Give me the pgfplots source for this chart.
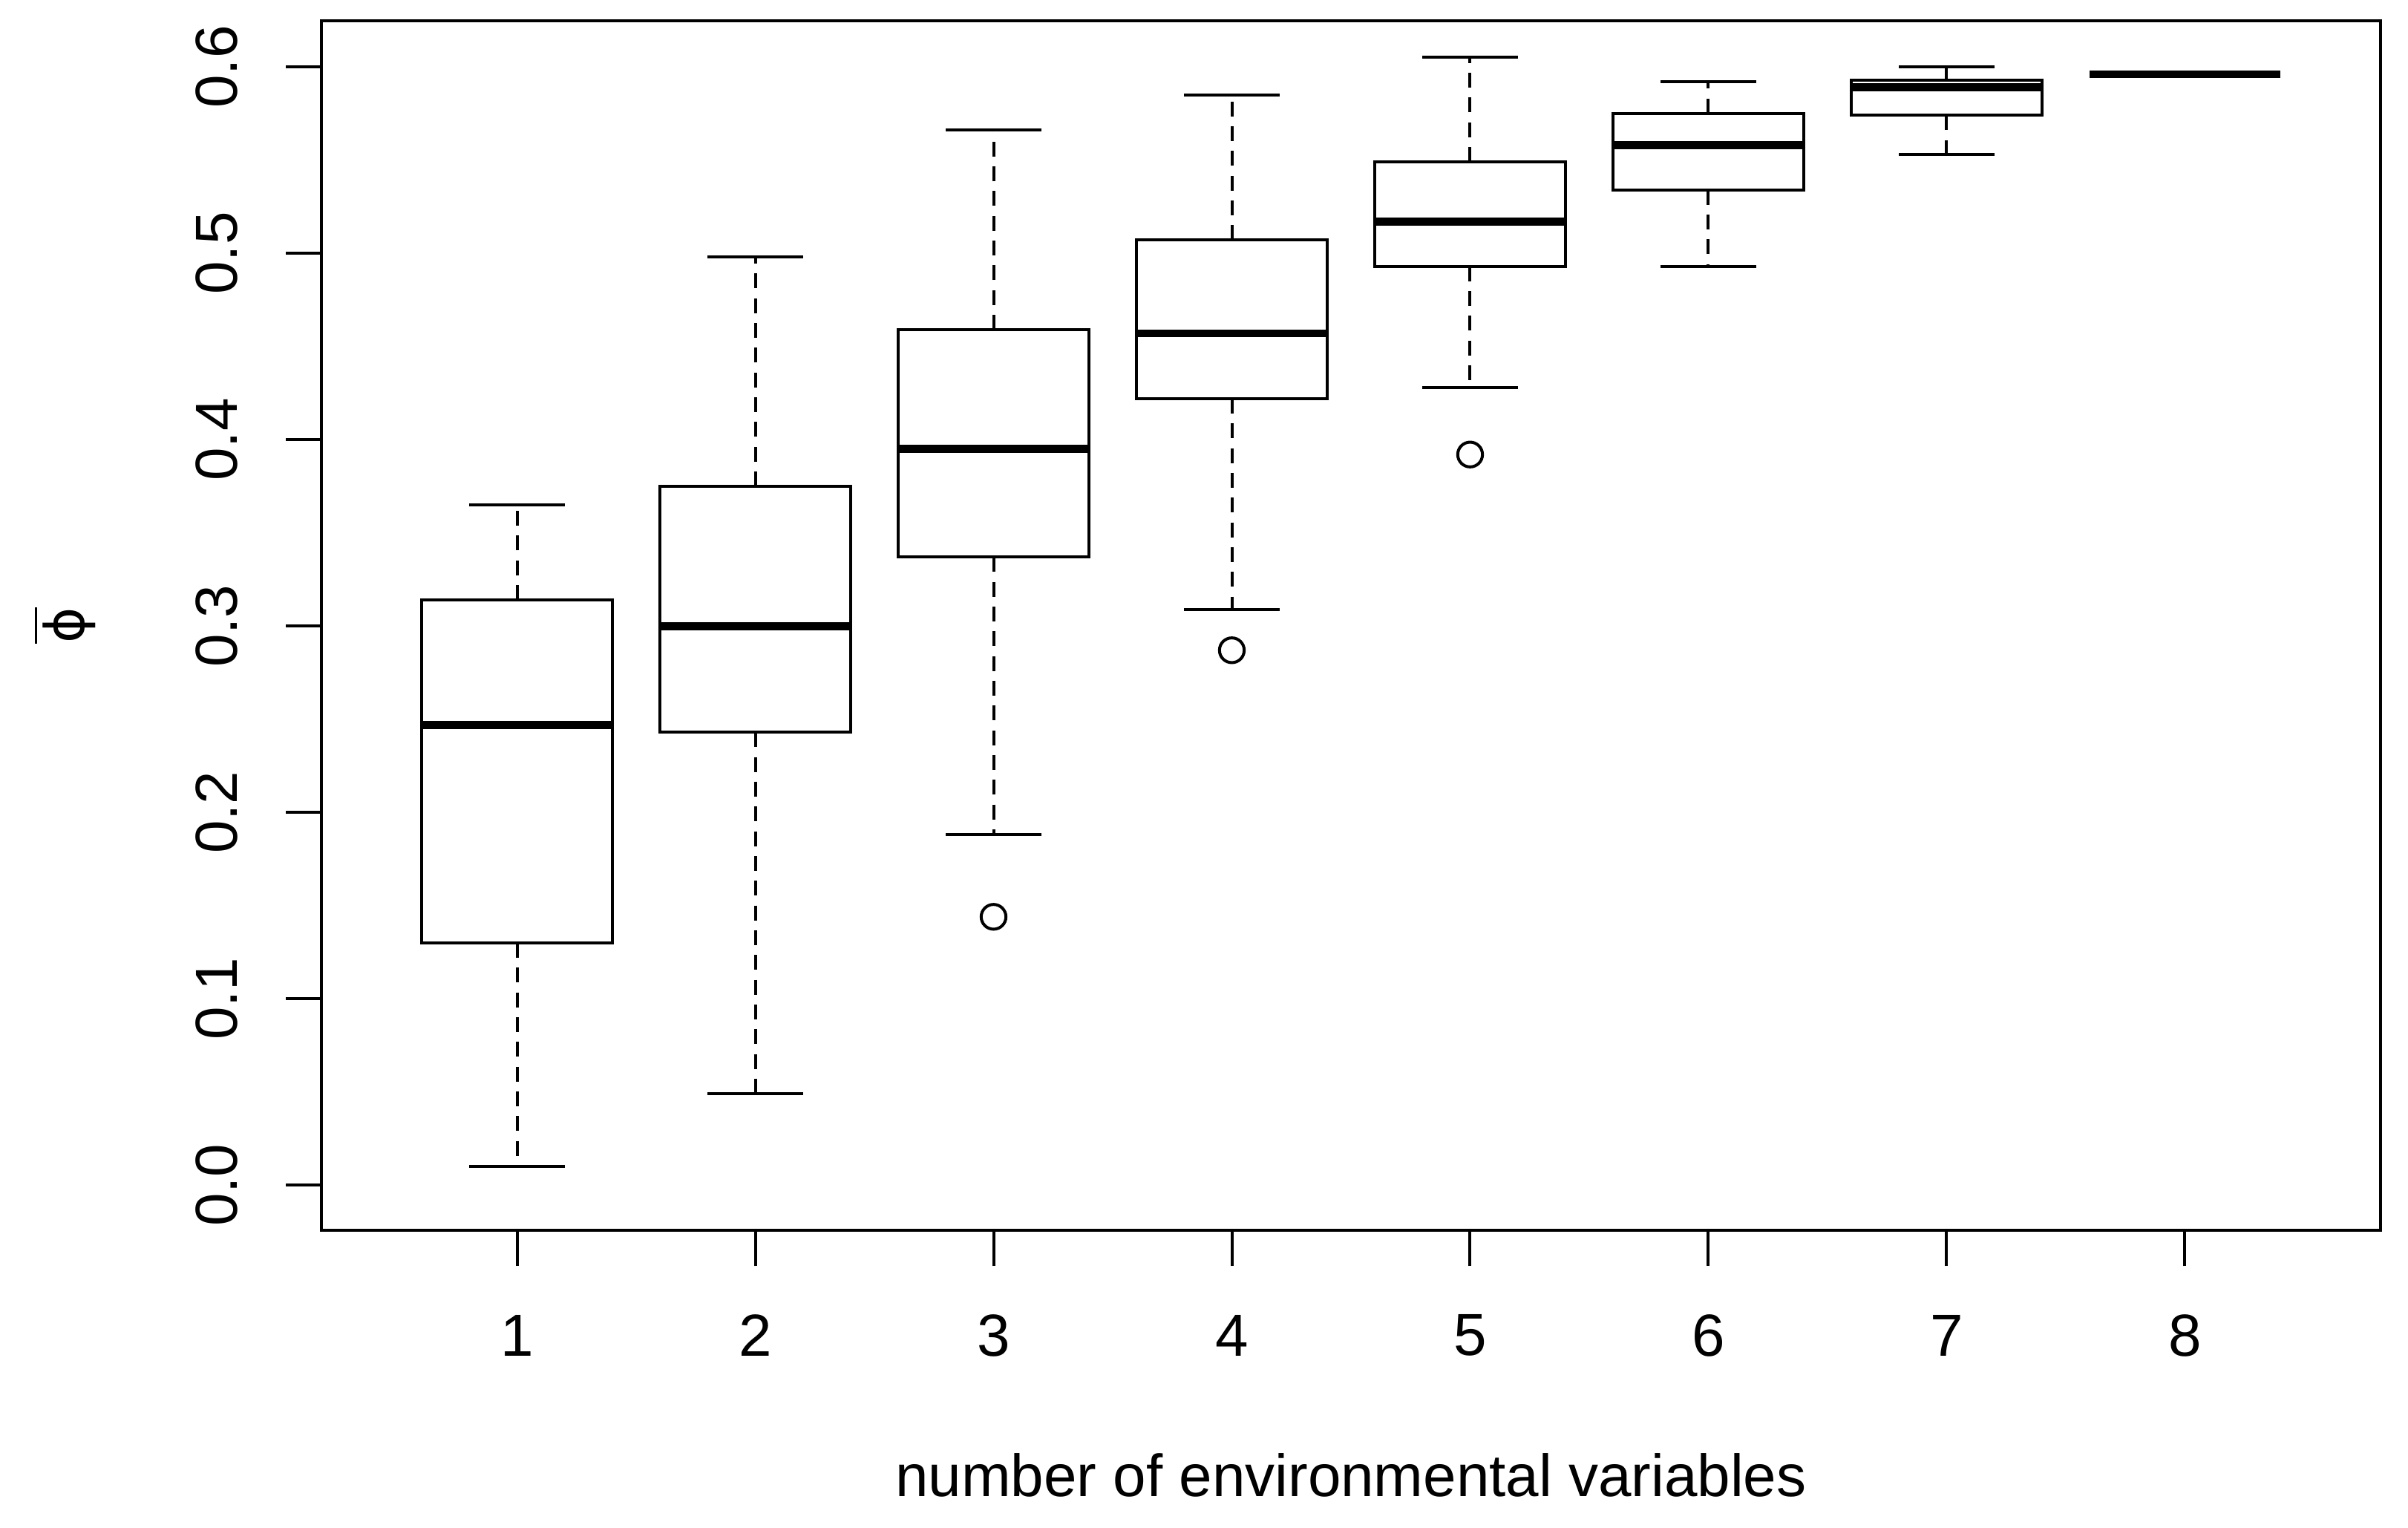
\documentclass[border=0pt]{standalone}
\usepackage{fontspec}
\setmainfont{Liberation Sans}
\newfontfamily\dejavu{DejaVu Sans}
\usepackage{pgfplots}
\pgfplotsset{compat=1.18}
\usepgfplotslibrary{statistics}

\pgfplotsset{
  rbox/.style={
    black, line width=0.6pt, solid,
    mark=o, mark size=2.5pt,
    mark options={black, line width=0.6pt, solid, fill=none},
    boxplot/draw direction=y,
    boxplot/box extend=0.8,
    boxplot/whisker extend=0.4,
    boxplot/every median/.style={line width=1.6pt},
    % R style: dashed stem, solid staple
    boxplot/draw/lower whisker/.code={%
      \draw[black, line width=0.6pt, dash pattern=on 3pt off 2pt]
        (boxplot whisker cs:\pgfplotsboxplotvalue{lower quartile},0.5)
        -- (boxplot whisker cs:\pgfplotsboxplotvalue{lower whisker},0.5);
      \draw[black, line width=0.6pt]
        (boxplot whisker cs:\pgfplotsboxplotvalue{lower whisker},0)
        -- (boxplot whisker cs:\pgfplotsboxplotvalue{lower whisker},1);
    },
    boxplot/draw/upper whisker/.code={%
      \draw[black, line width=0.6pt, dash pattern=on 3pt off 2pt]
        (boxplot whisker cs:\pgfplotsboxplotvalue{upper quartile},0.5)
        -- (boxplot whisker cs:\pgfplotsboxplotvalue{upper whisker},0.5);
      \draw[black, line width=0.6pt]
        (boxplot whisker cs:\pgfplotsboxplotvalue{upper whisker},0)
        -- (boxplot whisker cs:\pgfplotsboxplotvalue{upper whisker},1);
    },
  },
}

\begin{document}
\begin{tikzpicture}
\path[use as bounding box] (-65pt,-60pt) rectangle (421.6pt,248.6pt);
\begin{axis}[
  at={(0,0)}, anchor=south west,
  scale only axis, width=416pt, height=244.4pt,
  xmin=0.18, xmax=8.82, ymin=-0.0243, ymax=0.6247,
  xtick={1,2,3,4,5,6,7,8},
  xticklabels={1,2,3,4,5,6,7,8},
  ytick={0,0.1,0.2,0.3,0.4,0.5,0.6},
  yticklabels={0.0,0.1,0.2,0.3,0.4,0.5,0.6},
  /pgf/number format/assume math mode=true,
  tick pos=left, tick align=outside,
  major tick length=7.2pt,
  tick style={black, line width=0.6pt},
  axis line style={line width=0.6pt},
  tick label style={font=\fontsize{12}{14}\selectfont},
  xticklabel style={anchor=center, inner sep=0pt, yshift=-14pt},
  yticklabel style={anchor=center, inner sep=0pt, xshift=-14pt, rotate=90},
  every axis x label/.style={at={(axis description cs:0.5,0)}, anchor=center,
    yshift=-49.5pt, font=\fontsize{12}{14}\selectfont},
  every axis y label/.style={at={(axis description cs:0,0.5)}, xshift=-52pt,
    rotate=90, anchor=center, font=\fontsize{11}{13}\selectfont},
  xlabel={number of environmental variables},
  ylabel={$\overline{\mbox{\dejavu ϕ}}$},
]
\addplot[rbox, boxplot prepared={lower whisker=0.010, lower quartile=0.130, median=0.247, upper quartile=0.314, upper whisker=0.365, draw position=1}] coordinates {};
\addplot[rbox, boxplot prepared={lower whisker=0.049, lower quartile=0.243, median=0.300, upper quartile=0.375, upper whisker=0.498, draw position=2}] coordinates {};
\addplot[rbox, boxplot prepared={lower whisker=0.188, lower quartile=0.337, median=0.395, upper quartile=0.459, upper whisker=0.566, draw position=3}] table[row sep=\\, y index=0] {data\\ 0.144\\};
\addplot[rbox, boxplot prepared={lower whisker=0.309, lower quartile=0.422, median=0.457, upper quartile=0.507, upper whisker=0.585, draw position=4}] table[row sep=\\, y index=0] {data\\ 0.287\\};
\addplot[rbox, boxplot prepared={lower whisker=0.428, lower quartile=0.493, median=0.517, upper quartile=0.549, upper whisker=0.605, draw position=5}] table[row sep=\\, y index=0] {data\\ 0.392\\};
\addplot[rbox, boxplot prepared={lower whisker=0.493, lower quartile=0.534, median=0.558, upper quartile=0.575, upper whisker=0.592, draw position=6}] coordinates {};
\addplot[rbox, boxplot prepared={lower whisker=0.553, lower quartile=0.574, median=0.589, upper quartile=0.593, upper whisker=0.600, draw position=7}] coordinates {};
\addplot[rbox, boxplot prepared={lower whisker=0.596, lower quartile=0.596, median=0.596, upper quartile=0.596, upper whisker=0.596, draw position=8}] coordinates {};
\end{axis}
\end{tikzpicture}
\end{document}
